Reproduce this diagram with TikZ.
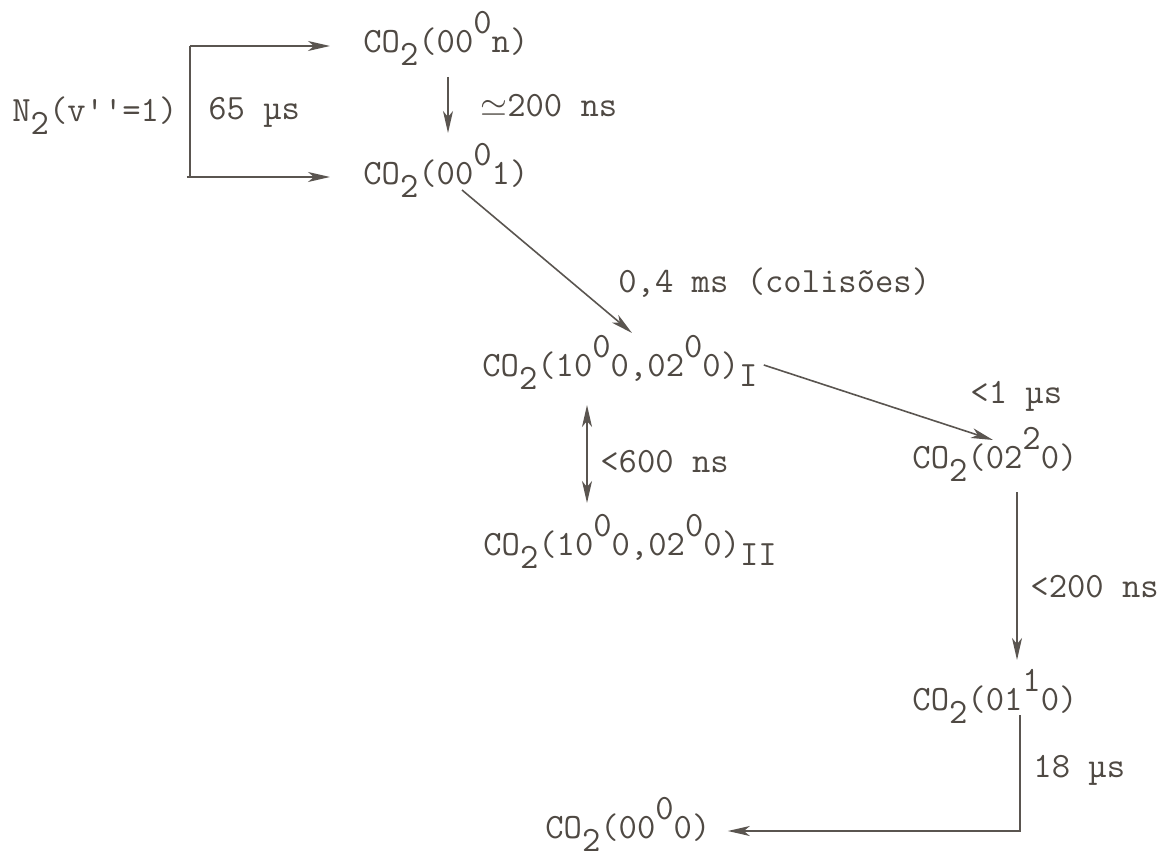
\documentclass[tikz,border=0pt]{standalone}
\usepackage{fontspec}
\usetikzlibrary{arrows.meta}
\definecolor{ink}{HTML}{4F4943}
\definecolor{pen}{HTML}{5A5550}
% typewriter half-line shifts
\newcommand{\lowr}[1]{\raisebox{-6.5pt}{#1}}
\newcommand{\uppr}[1]{\raisebox{9.5pt}{#1}}
\begin{document}
\begin{tikzpicture}[x=0.5pt, y=-0.5pt,
  lvl/.style={anchor=base west, inner sep=0pt, text=ink,
    font=\ttfamily\fontsize{17.8}{20}\selectfont},
  ln/.style={draw=pen, line width=0.8pt},
  >={Stealth[length=11pt, width=5pt, inset=3pt]}]
\useasboundingbox (0,0) rectangle (1165,860);

% Levels
\node[lvl] (n2) at (12,122) {N\lowr{2}(v''=1)};
\node[lvl] (n0) at (363,53) {CO\lowr{2}(00\uppr{0}n)};
\node[lvl] (n1) at (363,185) {CO\lowr{2}(00\uppr{0}1)};
\node[lvl] (nI) at (482,377) {CO\lowr{2}(10\uppr{0}0,02\uppr{0}0)\raisebox{-5pt}{I}};
\node[lvl] (nII) at (483,555) {CO\lowr{2}(10\uppr{0}0,02\uppr{0}0)\raisebox{-5pt}{II}};
\node[lvl] (n22) at (912,468) {CO\lowr{2}(02\uppr{2}0)};
\node[lvl] (n11) at (912,710) {CO\lowr{2}(01\uppr{1}0)};
\node[lvl] (n00) at (545,838) {CO\lowr{2}(00\uppr{0}0)};

% Times
\node[lvl] (t65) at (208,120) {65 µs};
\node[lvl] (t200a) at (480,117) {$\simeq$200 ns};
\node[lvl] (t04) at (618,293) {0,4 ms (colisões)};
\node[lvl] (t1) at (970,403) {<1 µs};
\node[lvl] (t600) at (600,472) {<600 ns};
\node[lvl] (t200b) at (1030,597) {<200 ns};
\node[lvl] (t18) at (1033,777) {18 µs};

% N2 bracket
\coordinate (ta) at ([shift={(-33,-7)}]n0.base west);
\coordinate (tb) at ([shift={(-33,-8)}]n1.base west);
\coordinate (bx) at ([shift={(12,0)}]n2.base east);
\draw[ln] (bx |- ta) -- (bx |- tb);
\draw[ln,->] (bx |- ta) -- (ta);
\draw[ln,->] ([xshift=-1.5pt]bx |- tb) -- (tb);

% Transfers
\draw[ln,->] ([shift={(85,24)}]n0.base west) -- ([shift={(85,-52)}]n1.base west);
\draw[ln,->] ([shift={(99,5)}]n1.base west) -- ([shift={(150,-44)}]nI.base west);
\draw[ln,->] ([shift={(6,-12)}]nI.base east) -- ([shift={(81,-28)}]n22.base west);
\coordinate (da) at ([shift={(105,28)}]nI.base west);
\coordinate (db) at ([shift={(105,-52)}]nII.base west);
\draw[ln,<->] (da) -- (da |- db);
\draw[ln,->] ([shift={(105,24)}]n22.base west) -- ([shift={(105,-50)}]n11.base west);
\coordinate (tz) at ([shift={(17,-7)}]n00.base east);
\draw[ln,->] ([shift={(108,5)}]n11.base west) |- (tz);
\end{tikzpicture}
\end{document}
